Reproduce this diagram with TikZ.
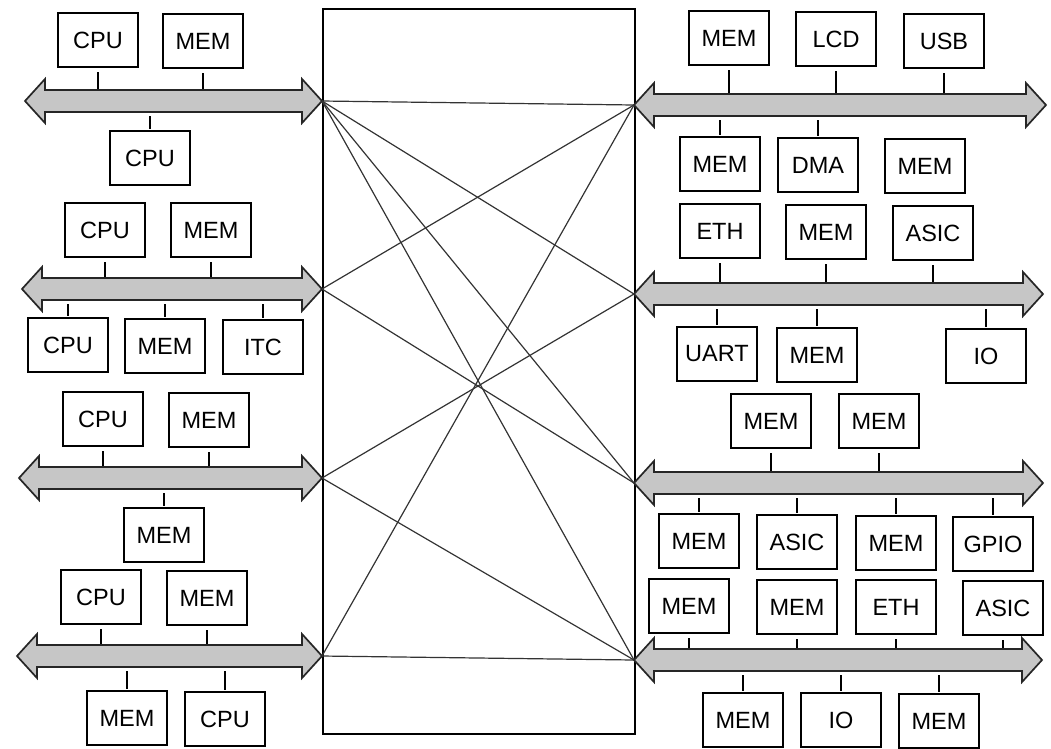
\documentclass[tikz,border=0pt]{standalone}
\usepackage{fontspec}
\setmainfont{Liberation Sans}
\newcommand\busdraw[4]{%
  \draw[busfill] (#2,#4) -- (#2+20,#4-22) -- (#2+20,#4-11) -- (#3-20,#4-11) -- (#3-20,#4-22) -- (#3,#4)
     -- (#3-20,#4+22) -- (#3-20,#4+11) -- (#2+20,#4+11) -- (#2+20,#4+22) -- cycle;
  \node[draw=none, minimum width={#3-#2-40}, minimum height=22, inner sep=0pt] (#1) at ({(#2+#3)/2},#4) {};
  \coordinate (#1-l) at (#2,#4);
  \coordinate (#1-r) at (#3,#4);
}
\newcommand\tup[2]{\draw[tick] (#1.south) -- (#1.south |- #2.north);}
\newcommand\tdn[2]{\draw[tick] (#1.south -| #2.north) -- (#2.north);}
\begin{document}
\begin{tikzpicture}[x=1pt,y=-1pt,
  blk/.style={draw, line width=2pt, minimum width=80pt, minimum height=54pt, inner sep=0pt,
              font=\fontsize{23.5}{26}\selectfont},
  tick/.style={line width=1.4pt, shorten <=4pt, shorten >=1pt},
  busfill/.style={fill=gray!45, draw=black!85, line width=1.7pt, line join=miter},
  xline/.style={line width=1.2pt, draw=black!80}]
\useasboundingbox (0,0) rectangle (1051,748);

% central switch
\node[draw, line width=2pt, minimum width=312pt, minimum height=725pt, inner sep=0pt, anchor=north west] (sw) at (322,8) {};

% buses
\busdraw{LB1}{25}{322}{101}
\busdraw{LB2}{22}{322}{289}
\busdraw{LB3}{19}{322}{478}
\busdraw{LB4}{17}{322}{656}
\busdraw{RB1}{634}{1046}{105}
\busdraw{RB2}{634}{1043}{294}
\busdraw{RB3}{634}{1043}{483}
\busdraw{RB4}{634}{1042}{660}

% crossbar lines
\draw[xline] (LB1-r) -- (RB1-l);
\draw[xline] (LB1-r) -- (RB2-l);
\draw[xline] (LB1-r) -- (RB3-l);
\draw[xline] (LB1-r) -- (RB4-l);
\draw[xline] (LB2-r) -- (RB1-l);
\draw[xline] (LB2-r) -- (RB3-l);
\draw[xline] (LB3-r) -- (RB2-l);
\draw[xline] (LB3-r) -- (RB4-l);
\draw[xline] (LB4-r) -- (RB1-l);
\draw[xline] (LB4-r) -- (RB4-l);

% left side blocks
\node[blk] (a1) at (98,40) {CPU};
\node[blk] (a2) at (203,41) {MEM};
\node[blk] (a3) at (150,158) {CPU};
\node[blk] (b1) at (105,230) {CPU};
\node[blk] (b2) at (211,230) {MEM};
\node[blk] (b3) at (68,345) {CPU};
\node[blk] (b4) at (165,346) {MEM};
\node[blk] (b5) at (263,347) {ITC};
\node[blk] (c1) at (103,419) {CPU};
\node[blk] (c2) at (209,420) {MEM};
\node[blk] (c3) at (164,535) {MEM};
\node[blk] (d1) at (101,597) {CPU};
\node[blk] (d2) at (207,598) {MEM};
\node[blk] (d3) at (127,718) {MEM};
\node[blk] (d4) at (225,719) {CPU};

% right side blocks
\node[blk] (e1) at (729,38) {MEM};
\node[blk] (e2) at (836,39) {LCD};
\node[blk] (e3) at (944,41) {USB};
\node[blk] (e4) at (720,164) {MEM};
\node[blk] (e5) at (818,165) {DMA};
\node[blk] (e6) at (925,166) {MEM};
\node[blk] (f1) at (720,231) {ETH};
\node[blk] (f2) at (826,232) {MEM};
\node[blk] (f3) at (933,233) {ASIC};
\node[blk] (f4) at (717,354) {UART};
\node[blk] (f5) at (817,355) {MEM};
\node[blk] (f6) at (986,356) {IO};
\node[blk] (g1) at (771,421) {MEM};
\node[blk] (g2) at (879,421) {MEM};
\node[blk] (g3) at (699,541) {MEM};
\node[blk] (g4) at (797,542) {ASIC};
\node[blk] (g5) at (896,543) {MEM};
\node[blk] (g6) at (993,544) {GPIO};
\node[blk] (h1) at (689,606) {MEM};
\node[blk] (h2) at (797,607) {MEM};
\node[blk] (h3) at (896,607) {ETH};
\node[blk] (h4) at (1003,608) {ASIC};
\node[blk] (h5) at (743,720) {MEM};
\node[blk] (h6) at (841,720) {IO};
\node[blk] (h7) at (939,721) {MEM};

% ticks (left)
\tup{a1}{LB1} \tup{a2}{LB1} \tdn{LB1}{a3}
\tup{b1}{LB2} \tup{b2}{LB2} \tdn{LB2}{b3} \tdn{LB2}{b4} \tdn{LB2}{b5}
\tup{c1}{LB3} \tup{c2}{LB3} \tdn{LB3}{c3}
\tup{d1}{LB4} \tup{d2}{LB4} \tdn{LB4}{d3} \tdn{LB4}{d4}
% ticks (right)
\tup{e1}{RB1} \tup{e2}{RB1} \tup{e3}{RB1} \tdn{RB1}{e4} \tdn{RB1}{e5}
\tup{f1}{RB2} \tup{f2}{RB2} \tup{f3}{RB2} \tdn{RB2}{f4} \tdn{RB2}{f5} \tdn{RB2}{f6}
\tup{g1}{RB3} \tup{g2}{RB3} \tdn{RB3}{g3} \tdn{RB3}{g4} \tdn{RB3}{g5} \tdn{RB3}{g6}
\tup{h1}{RB4} \tup{h2}{RB4} \tup{h3}{RB4} \tup{h4}{RB4} \tdn{RB4}{h5} \tdn{RB4}{h6} \tdn{RB4}{h7}
\end{tikzpicture}
\end{document}
